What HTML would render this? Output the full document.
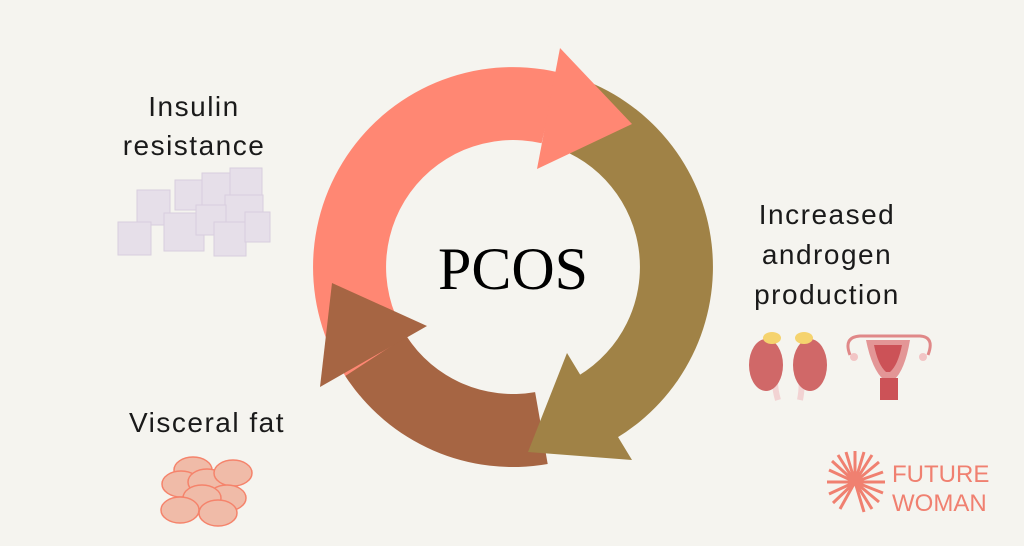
<!DOCTYPE html>
<html><head><meta charset="utf-8"><style>
html,body{margin:0;padding:0;background:#F5F4EF;}
svg{display:block}
</style></head><body>
<svg width="1024" height="546" viewBox="0 0 1024 546" xmlns="http://www.w3.org/2000/svg">
<rect width="1024" height="546" fill="#F5F4EF"/>
<path d="M359.8,395.6 A200,200 0 0 1 558,72.2 L541.6,143.3 A127,127 0 0 0 415.7,348.6 Z" fill="#FF8773"/>
<path d="M574.8,76.8 A200,200 0 0 1 616,438.4 L578.4,375.8 A127,127 0 0 0 552.2,146.2 Z" fill="#A08246"/>
<path d="M547.7,464 A200,200 0 0 1 345.3,376 L406.5,336.2 A127,127 0 0 0 535.1,392.1 Z" fill="#A66543"/>
<polygon points="560,48 632,124 537,169" fill="#FF8773"/>
<polygon points="567,353 632,460 528,452" fill="#A08246"/>
<polygon points="427,326 320,387 332,283" fill="#A66543"/>
<text x="513" y="289" text-anchor="middle" font-family="Liberation Serif, serif" font-size="60" fill="#000">PCOS</text>

<g font-family="Liberation Sans, sans-serif" font-size="28" letter-spacing="1.5" fill="#1a1a1a" text-anchor="middle">
<text x="194" y="116">Insulin</text>
<text x="194" y="155">resistance</text>
<text x="827" y="224">Increased</text>
<text x="827" y="264">androgen</text>
<text x="827" y="304">production</text>
<text x="207" y="432">Visceral fat</text>
</g>

<g fill="#E6DFE9" stroke="#D8CEDE" stroke-width="1">
<rect x="137" y="190" width="33" height="35"/>
<rect x="175" y="180" width="30" height="30"/>
<rect x="202" y="173" width="30" height="32"/>
<rect x="230" y="168" width="32" height="35"/>
<rect x="225" y="195" width="38" height="32"/>
<rect x="118" y="222" width="33" height="33"/>
<rect x="164" y="213" width="40" height="38"/>
<rect x="196" y="205" width="30" height="30"/>
<rect x="214" y="222" width="32" height="34"/>
<rect x="245" y="212" width="25" height="30"/>
</g>

<g fill="#F0BBA8" stroke="#F5836B" stroke-width="1.5">
<ellipse cx="193" cy="470" rx="19" ry="13"/>
<ellipse cx="181" cy="484" rx="19" ry="13"/>
<ellipse cx="207" cy="482" rx="19" ry="13"/>
<ellipse cx="233" cy="473" rx="19" ry="13"/>
<ellipse cx="227" cy="498" rx="19" ry="13"/>
<ellipse cx="202" cy="498" rx="19" ry="13"/>
<ellipse cx="180" cy="510" rx="19" ry="13"/>
<ellipse cx="218" cy="513" rx="19" ry="13"/>
</g>

<g>
<path d="M778,365 Q772,380 778,400" stroke="#F2D3D3" stroke-width="6" fill="none"/>
<path d="M798,365 Q804,380 800,400" stroke="#F2D3D3" stroke-width="6" fill="none"/>
<ellipse cx="766" cy="365" rx="17" ry="26" fill="#D06868"/>
<ellipse cx="810" cy="365" rx="17" ry="26" fill="#D06868"/>
<ellipse cx="772" cy="338" rx="9" ry="6" fill="#F5D36E"/>
<ellipse cx="804" cy="338" rx="9" ry="6" fill="#F5D36E"/>
</g>
<g>
<path d="M850,355 Q843,337 860,336 L920,336 Q935,337 928,355" stroke="#E08888" stroke-width="3" fill="none"/>
<path d="M866,340 L910,340 Q905,370 894,380 L884,380 Q872,370 866,340 Z" fill="#E39696"/>
<path d="M874,345 L902,345 Q898,365 890,372 L886,372 Q878,365 874,345 Z" fill="#CC5257"/>
<rect x="880" y="378" width="18" height="22" fill="#CC5257"/>
<circle cx="854" cy="357" r="4" fill="#F2C5C5"/>
<circle cx="923" cy="357" r="4" fill="#F2C5C5"/>
</g>

<g stroke="#F08070" stroke-width="3">
<line x1="855" y1="482" x2="827" y2="482"/>
<line x1="855" y1="482" x2="829" y2="470"/>
<line x1="855" y1="482" x2="832" y2="461"/>
<line x1="855" y1="482" x2="838" y2="455"/>
<line x1="855" y1="482" x2="846" y2="452"/>
<line x1="855" y1="482" x2="855" y2="451"/>
<line x1="855" y1="482" x2="864" y2="452"/>
<line x1="855" y1="482" x2="872" y2="455"/>
<line x1="855" y1="482" x2="879" y2="462"/>
<line x1="855" y1="482" x2="883" y2="472"/>
<line x1="855" y1="482" x2="885" y2="482"/>
<line x1="855" y1="482" x2="883" y2="493"/>
<line x1="855" y1="482" x2="879" y2="502"/>
<line x1="855" y1="482" x2="872" y2="509"/>
<line x1="855" y1="482" x2="864" y2="512"/>
<line x1="855" y1="482" x2="829" y2="494"/>
<line x1="855" y1="482" x2="833" y2="503"/>
<line x1="855" y1="482" x2="840" y2="509"/>
</g>
<g font-family="Liberation Sans, sans-serif" font-size="24" fill="#F08070">
<text x="892" y="482">FUTURE</text>
<text x="892" y="511">WOMAN</text>
</g>
</svg>
</body></html>
